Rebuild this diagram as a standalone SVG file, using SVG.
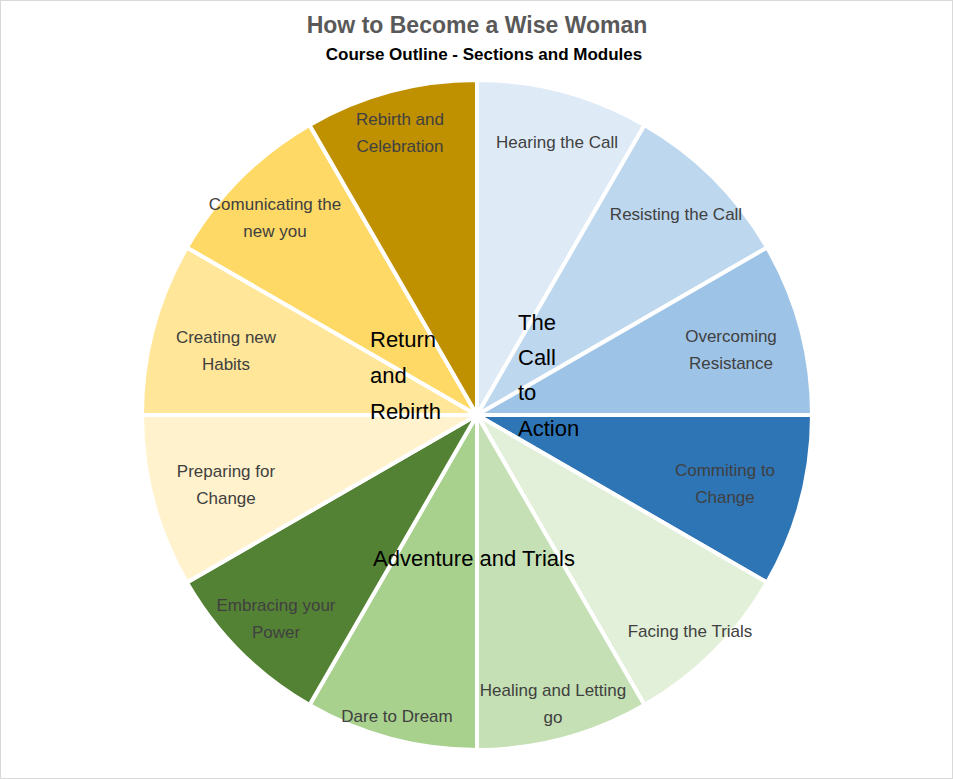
<svg xmlns="http://www.w3.org/2000/svg" width="953" height="779" viewBox="0 0 953 779">
<style>
.w{stroke:#fff;stroke-width:4;stroke-linejoin:round}
.l{font-family:"Liberation Sans",Arial,sans-serif;font-size:17px;fill:#404040;text-anchor:middle}
.s{font-family:"Liberation Sans",Arial,sans-serif;font-size:22px;fill:#000}
</style>
<rect x="0.5" y="0.5" width="952" height="778" fill="#fff" stroke="#d9d9d9"/>
<text x="477" y="33" text-anchor="middle" font-family="Liberation Sans,Arial,sans-serif" font-size="23" font-weight="bold" fill="#595959">How to Become a Wise Woman</text>
<text x="484" y="60" text-anchor="middle" font-family="Liberation Sans,Arial,sans-serif" font-size="17" font-weight="bold" fill="#000">Course Outline - Sections and Modules</text>
<g id="slices">
<g id="s1"><path class="w" fill="#DEEBF7" d="M477,415 L477,80 A335,335 0 0 1 644.5,124.9Z"/><text class="l" x="557" y="148">Hearing the Call</text></g>
<g id="s2"><path class="w" fill="#BDD7EE" d="M477,415 L644.5,124.9 A335,335 0 0 1 767.1,247.5Z"/><text class="l" x="676" y="220">Resisting the Call</text></g>
<g id="s3"><path class="w" fill="#9DC3E6" d="M477,415 L767.1,247.5 A335,335 0 0 1 812,415Z"/><text class="l" x="731" y="342">Overcoming</text><text class="l" x="731" y="369">Resistance</text></g>
<g id="s4"><path class="w" fill="#2E75B6" d="M477,415 L812,415 A335,335 0 0 1 767.1,582.5Z"/><text class="l" x="725" y="476">Commiting to</text><text class="l" x="725" y="503">Change</text></g>
<g id="s5"><path class="w" fill="#E2F0D9" d="M477,415 L767.1,582.5 A335,335 0 0 1 644.5,705.1Z"/><text class="l" x="690" y="637">Facing the Trials</text></g>
<g id="s6"><path class="w" fill="#C5E0B4" d="M477,415 L644.5,705.1 A335,335 0 0 1 477,750Z"/><text class="l" x="553" y="696">Healing and Letting</text><text class="l" x="553" y="723">go</text></g>
<g id="s7"><path class="w" fill="#A9D18E" d="M477,415 L477,750 A335,335 0 0 1 309.5,705.1Z"/><text class="l" x="397" y="722">Dare to Dream</text></g>
<g id="s8"><path class="w" fill="#548235" d="M477,415 L309.5,705.1 A335,335 0 0 1 186.9,582.5Z"/><text class="l" x="276" y="611">Embracing your</text><text class="l" x="276" y="638">Power</text></g>
<g id="s9"><path class="w" fill="#FFF2CC" d="M477,415 L186.9,582.5 A335,335 0 0 1 142,415Z"/><text class="l" x="226" y="477">Preparing for</text><text class="l" x="226" y="504">Change</text></g>
<g id="s10"><path class="w" fill="#FFE699" d="M477,415 L142,415 A335,335 0 0 1 186.9,247.5Z"/><text class="l" x="226" y="343">Creating new</text><text class="l" x="226" y="370">Habits</text></g>
<g id="s11"><path class="w" fill="#FFD966" d="M477,415 L186.9,247.5 A335,335 0 0 1 309.5,124.9Z"/><text class="l" x="275" y="210">Comunicating the</text><text class="l" x="275" y="237">new you</text></g>
<g id="s12"><path class="w" fill="#BF9000" d="M477,415 L309.5,124.9 A335,335 0 0 1 477,80Z"/><text class="l" x="400" y="125">Rebirth and</text><text class="l" x="400" y="152">Celebration</text></g>
</g>
<g id="sections">
<text class="s" x="518" y="330">The</text><text class="s" x="518" y="365">Call</text><text class="s" x="518" y="400">to</text><text class="s" x="518" y="436">Action</text>
<text class="s" x="370" y="347">Return</text><text class="s" x="370" y="383">and</text><text class="s" x="370" y="419">Rebirth</text>
<text class="s" x="474" y="566" text-anchor="middle">Adventure and Trials</text>
</g>
</svg>
